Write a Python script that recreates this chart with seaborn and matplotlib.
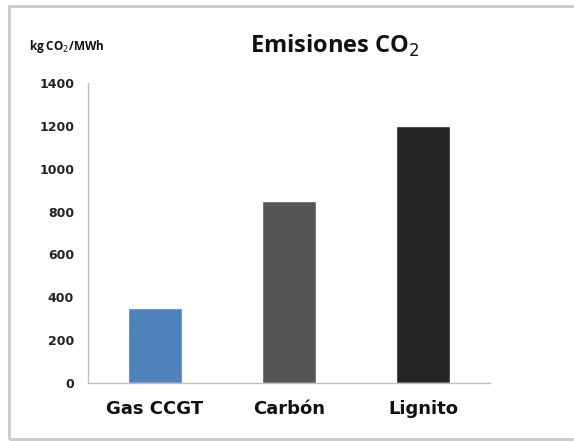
import numpy as np
import pandas as pd
import matplotlib
matplotlib.use("Agg")
import matplotlib.pyplot as plt
import seaborn as sns
from matplotlib.patches import Rectangle

# data
categories = ["Gas CCGT", "Carbón", "Lignito"]
emissions = [350, 850, 1200]
bar_colors = ["#4F81BD", "#555555", "#262626"]
y_ticks = [0, 200, 400, 600, 800, 1000, 1200, 1400]

df = pd.DataFrame({"tecnologia": categories, "emisiones": emissions})

sns.set_style("white")
plt.rcParams["font.family"] = ["DejaVu Sans"]

fig = plt.figure(figsize=(5.74, 4.41), dpi=100)
ax = fig.add_axes([0.1533, 0.1315, 0.7004, 0.6803])

sns.barplot(data=df, x="tecnologia", y="emisiones", hue="tecnologia",
            palette=bar_colors, width=0.4, legend=False, ax=ax,
            saturation=1)

ax.set_ylim(0, 1400)
ax.set_xlim(-0.5, 2.5)
ax.set_yticks(y_ticks)
ax.set_yticklabels([str(v) for v in y_ticks], fontsize=9, fontweight="bold",
                   color="#222222", family="DejaVu Sans")
ax.set_xticks(range(len(categories)))
ax.set_xticklabels(categories, fontsize=13, fontweight="bold", color="#111111",
                   family="DejaVu Sans")
ax.set_xticks([0.5, 1.5, 2.5], minor=True)
ax.tick_params(axis="x", which="major", length=0, pad=12)
ax.tick_params(axis="x", which="minor", length=4, color="#BFBFBF", direction="out")
ax.tick_params(axis="y", length=4, color="#BFBFBF", direction="out", pad=6)
ax.set_xlabel("")
ax.set_ylabel("")

for side in ["top", "right"]:
    ax.spines[side].set_visible(False)
for side in ["left", "bottom"]:
    ax.spines[side].set_color("#BFBFBF")
    ax.spines[side].set_linewidth(1)

fig.text(0.583, 0.895, "Emisiones CO$_2$", ha="center", va="center",
         fontsize=17, fontfamily="Open Sans", fontweight="bold", color="#111111")
fig.text(0.05, 0.895, "kg CO$_2$/MWh", ha="left", va="center",
         fontsize=8.5, fontfamily="Open Sans", fontweight="bold", color="#111111")

# outer chart frame
fig.patches.append(Rectangle((0.016, 0.004), 1.2, 0.982, transform=fig.transFigure,
                             fill=False, edgecolor="#C8C8C8", linewidth=2))

fig.savefig("out.png", dpi=100)
